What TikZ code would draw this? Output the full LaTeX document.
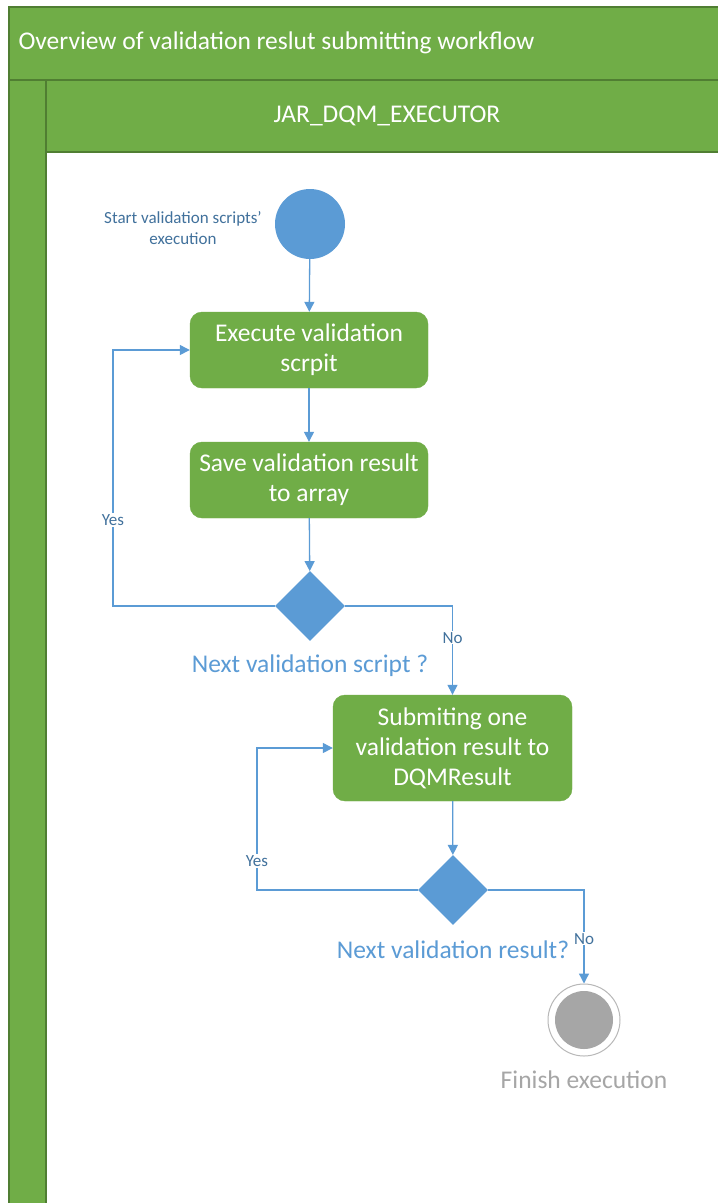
\documentclass[tikz,border=0pt]{standalone}
\usepackage{fontspec}
\setmainfont{Carlito}
\usetikzlibrary{arrows.meta,shapes.geometric}
\definecolor{lanegreen}{HTML}{70AD47}
\definecolor{laneedge}{HTML}{507E32}
\definecolor{flowblue}{HTML}{5B9BD5}
\definecolor{labelblue}{HTML}{41719C}
\definecolor{endgray}{HTML}{A6A6A6}
\begin{document}
\begin{tikzpicture}[x=1pt,y=-1pt,
  lane/.style={draw=laneedge, fill=lanegreen, line width=1.5pt},
  box/.style={rectangle, rounded corners=12pt, fill=lanegreen, draw=lanegreen,
    minimum width=238pt, minimum height=76pt, text=white, align=center,
    font=\fontsize{25.5}{30}\selectfont},
  decision/.style={diamond, fill=flowblue, inner sep=0pt, minimum width=70pt, minimum height=70pt},
  question/.style={text=flowblue, font=\fontsize{25.5}{30}\selectfont},
  edgelbl/.style={fill=white, text=labelblue, inner sep=1pt, font=\fontsize{17}{20}\selectfont},
  flow/.style={draw=flowblue, line width=1.3pt, -{Triangle[length=10pt,width=10pt]}}
]
\useasboundingbox (0,0) rectangle (718,1203);
\clip (0,0) rectangle (718,1203);

% pool and lane frames
\draw[lane] (9,7) rectangle (740,80);
\draw[lane] (9,80) rectangle (46,1220);
\draw[lane] (46,80) rectangle (740,152);
\draw[draw=laneedge, line width=1.5pt, fill=white] (46,152) rectangle (740,1220);
\node[anchor=west, text=white, font=\fontsize{25.5}{30}\selectfont] (pool) at (15,43) {Overview of validation reslut submitting workflow};
\node[text=white, font=\fontsize{25.5}{30}\selectfont] (laneA) at (387,116) {JAR\_DQM\_EXECUTOR};

% activity nodes
\node[circle, fill=flowblue, inner sep=0pt, minimum size=70pt] (start) at (310,224) {};
\node[align=center, text=labelblue, font=\fontsize{17}{21}\selectfont] (startlbl) at (183,228) {Start validation scripts’\\execution};
\node[box] (exec) at (309,350) {Execute validation\\scrpit};
\node[box] (save) at (309,480) {Save validation result\\to array};
\node[decision] (d1) at (310,606) {};
\node[question] (q1) at (310,666) {Next validation script ?};
\node[box, minimum width=239pt, minimum height=106pt] (submit) at (452.5,748) {Submiting one\\validation result to\\DQMResult};
\node[decision] (d2) at (453,890) {};
\node[question] (q2) at (453,950) {Next validation result?};
\node[circle, draw=endgray!80, line width=1pt, inner sep=0pt, minimum size=72pt] (finish) at (584,1020) {};
\node[circle, fill=endgray, inner sep=0pt, minimum size=58pt] (finishdot) at (finish.center) {};
\node[text=endgray, font=\fontsize{25.5}{30}\selectfont] (finishlbl) at (584,1080) {Finish execution};

% loop corners
\coordinate (yes1) at (113,606);
\coordinate (yes2) at (257,890);

% connectors
\draw[flow] (start) -- (exec);
\draw[flow] (exec) -- (save);
\draw[flow] (save) -- (d1);
\draw[flow] (d1.west) -- (yes1) |- (exec.west);
\node[edgelbl] (yeslbl1) at (113,520) {Yes};
\draw[flow] (d1.east) -| node[pos=0.68, edgelbl] (nolbl1) {No} (submit.north);
\draw[flow] (submit) -- (d2);
\draw[flow] (d2.west) -- (yes2) |- (submit.west);
\node[edgelbl] (yeslbl2) at (257,861) {Yes};
\draw[flow] (d2.east) -| node[pos=0.76, edgelbl] (nolbl2) {No} (finish.north);
\end{tikzpicture}
\end{document}
